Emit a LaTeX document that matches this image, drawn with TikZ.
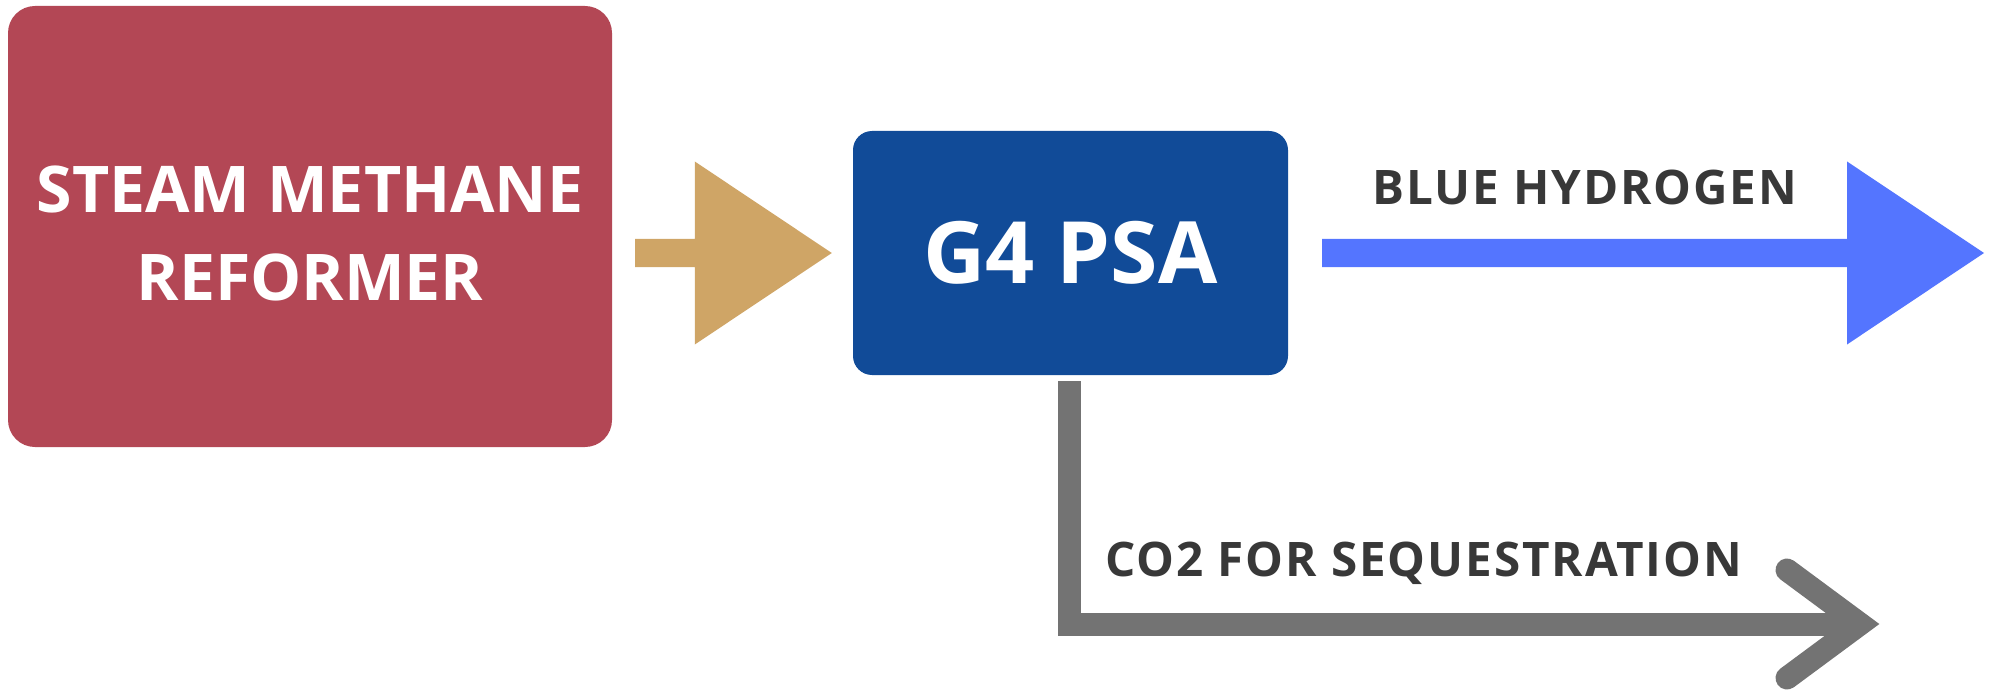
\documentclass[tikz,border=0pt]{standalone}
\usepackage{fontspec}
\setmainfont{Open Sans}
\usepackage{tikz}
\usetikzlibrary{calc}
\definecolor{smrred}{HTML}{B34755}
\definecolor{feedgold}{HTML}{CFA566}
\definecolor{psablue}{HTML}{114B98}
\definecolor{hydroblue}{HTML}{5475FF}
\definecolor{co2gray}{HTML}{737373}
\definecolor{taggray}{HTML}{383838}

\begin{document}
\begin{tikzpicture}[x=1pt, y=-1pt]
		\def\blockarrow#1#2#3{\fill[#1] ($(#2)+(0,-14)$) -- ($(#3)+(-137,-14)$) -- ($(#3)+(-137,-91.5)$) -- (#3) -- ($(#3)+(-137,91.5)$) -- ($(#3)+(-137,14)$) -- ($(#2)+(0,14)$) -- cycle;}
		\tikzstyle{unit}=[rounded corners=27pt, inner sep=0pt, text=white, font=\bfseries]
		\tikzstyle{flow}=[line width=23pt, draw=co2gray, line join=miter]
		\tikzstyle{tag}=[anchor=base west, inner sep=0pt, text=taggray, font=\fontsize{47.6}{57}\selectfont\bfseries\addfontfeature{LetterSpace=4}]
		\useasboundingbox (0,0) rectangle (1989,695);
		\node[unit, fill=smrred, minimum width=604pt, minimum height=441pt] (smr) at (310,226.5) {};
		\node[unit, align=center, font=\fontsize{64.4}{88}\selectfont\bfseries] (smrtext) at (310,233.5) {STEAM METHANE\\REFORMER};
		\node[unit, fill=psablue, rounded corners=19pt, minimum width=435pt, minimum height=244pt, font=\fontsize{86}{100}\selectfont\bfseries] (psa) at (1070.5,253) {G4 PSA};
		\node[tag] (h2tag) at (1372,205) {BLUE HYDROGEN};
		\node[tag] (co2tag) at (1105,576) {CO2 FOR SEQUESTRATION};
		% feed and product arrows
		\coordinate (feed0) at ($(smr.east |- psa.west)+(23,0)$);
		\coordinate (feed1) at ($(psa.west)+(-21,0)$);
		\coordinate (h20) at ($(psa.east)+(34,0)$);
		\coordinate (h21) at (1984,253);
		\blockarrow{feedgold}{feed0}{feed1}
		\blockarrow{hydroblue}{h20}{h21}
		% co2 line
		\coordinate (co2tip) at (1860,624);
		\draw[flow] ($(psa.south)+(-1.5,6)$) |- (co2tip);
		\draw[flow, line cap=round] ($(co2tip)+(-73,-54)$) -- (co2tip) -- ($(co2tip)+(-73,54)$);
	\end{tikzpicture}
\end{document}
